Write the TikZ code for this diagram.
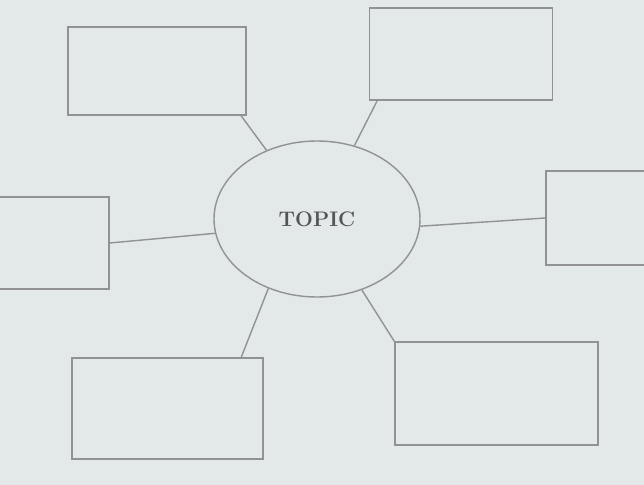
\documentclass[tikz,border=0pt]{standalone}
\usepackage{tikz}
\usetikzlibrary{shapes.geometric}
\definecolor{paper}{RGB}{227,232,233}
\definecolor{ink}{RGB}{145,147,147}
\definecolor{txt}{RGB}{85,85,85}

\begin{document}
\begin{tikzpicture}[x=0.025cm, y=-0.025cm,
    slot/.style={rectangle, draw=ink, line width=1pt},
    hub/.style={ellipse, draw=ink, line width=1pt, minimum width=206*0.025cm, minimum height=156*0.025cm, inner sep=0pt},
    link/.style={draw=ink, line width=1pt}]
      \fill[paper] (0,0) rectangle (644,485);
      \useasboundingbox (0,0) rectangle (644,485);
      \clip (0,0) rectangle (644,485);

      \node[hub, font=\fontsize{15}{17}\selectfont\bfseries, text=txt] (topic) at (317,219) {TOPIC};

      \node[slot, minimum width=178*0.025cm, minimum height=88*0.025cm] (tl) at (157,71) {};
      \node[slot, minimum width=183*0.025cm, minimum height=92*0.025cm] (tr) at (461,54) {};
      \node[slot, minimum width=138*0.025cm, minimum height=92*0.025cm] (l) at (40,243) {};
      \node[slot, minimum width=120*0.025cm, minimum height=94*0.025cm] (r) at (606,218) {};
      \node[slot, minimum width=191*0.025cm, minimum height=101*0.025cm] (bl) at (167.5,408.5) {};
      \node[slot, minimum width=203*0.025cm, minimum height=103*0.025cm] (br) at (496.5,393.5) {};

      %\foreach \n in {tl, tr, l, r, bl, br} \fill (\n) circle (2pt);
      \draw[link] ([xshift=-4pt]tl.south east) -- (topic);
      \draw[link] ([xshift=6pt]tr.south west) -- (topic);
      \draw[link] (l.east) -- (topic.188);
      \draw[link] (topic.-4) -- (r.west);
      \draw[link] ([xshift=-16pt]bl.north east) -- (topic.235);
      \draw[link] (br.north west) -- (topic);
\end{tikzpicture}
\end{document}
